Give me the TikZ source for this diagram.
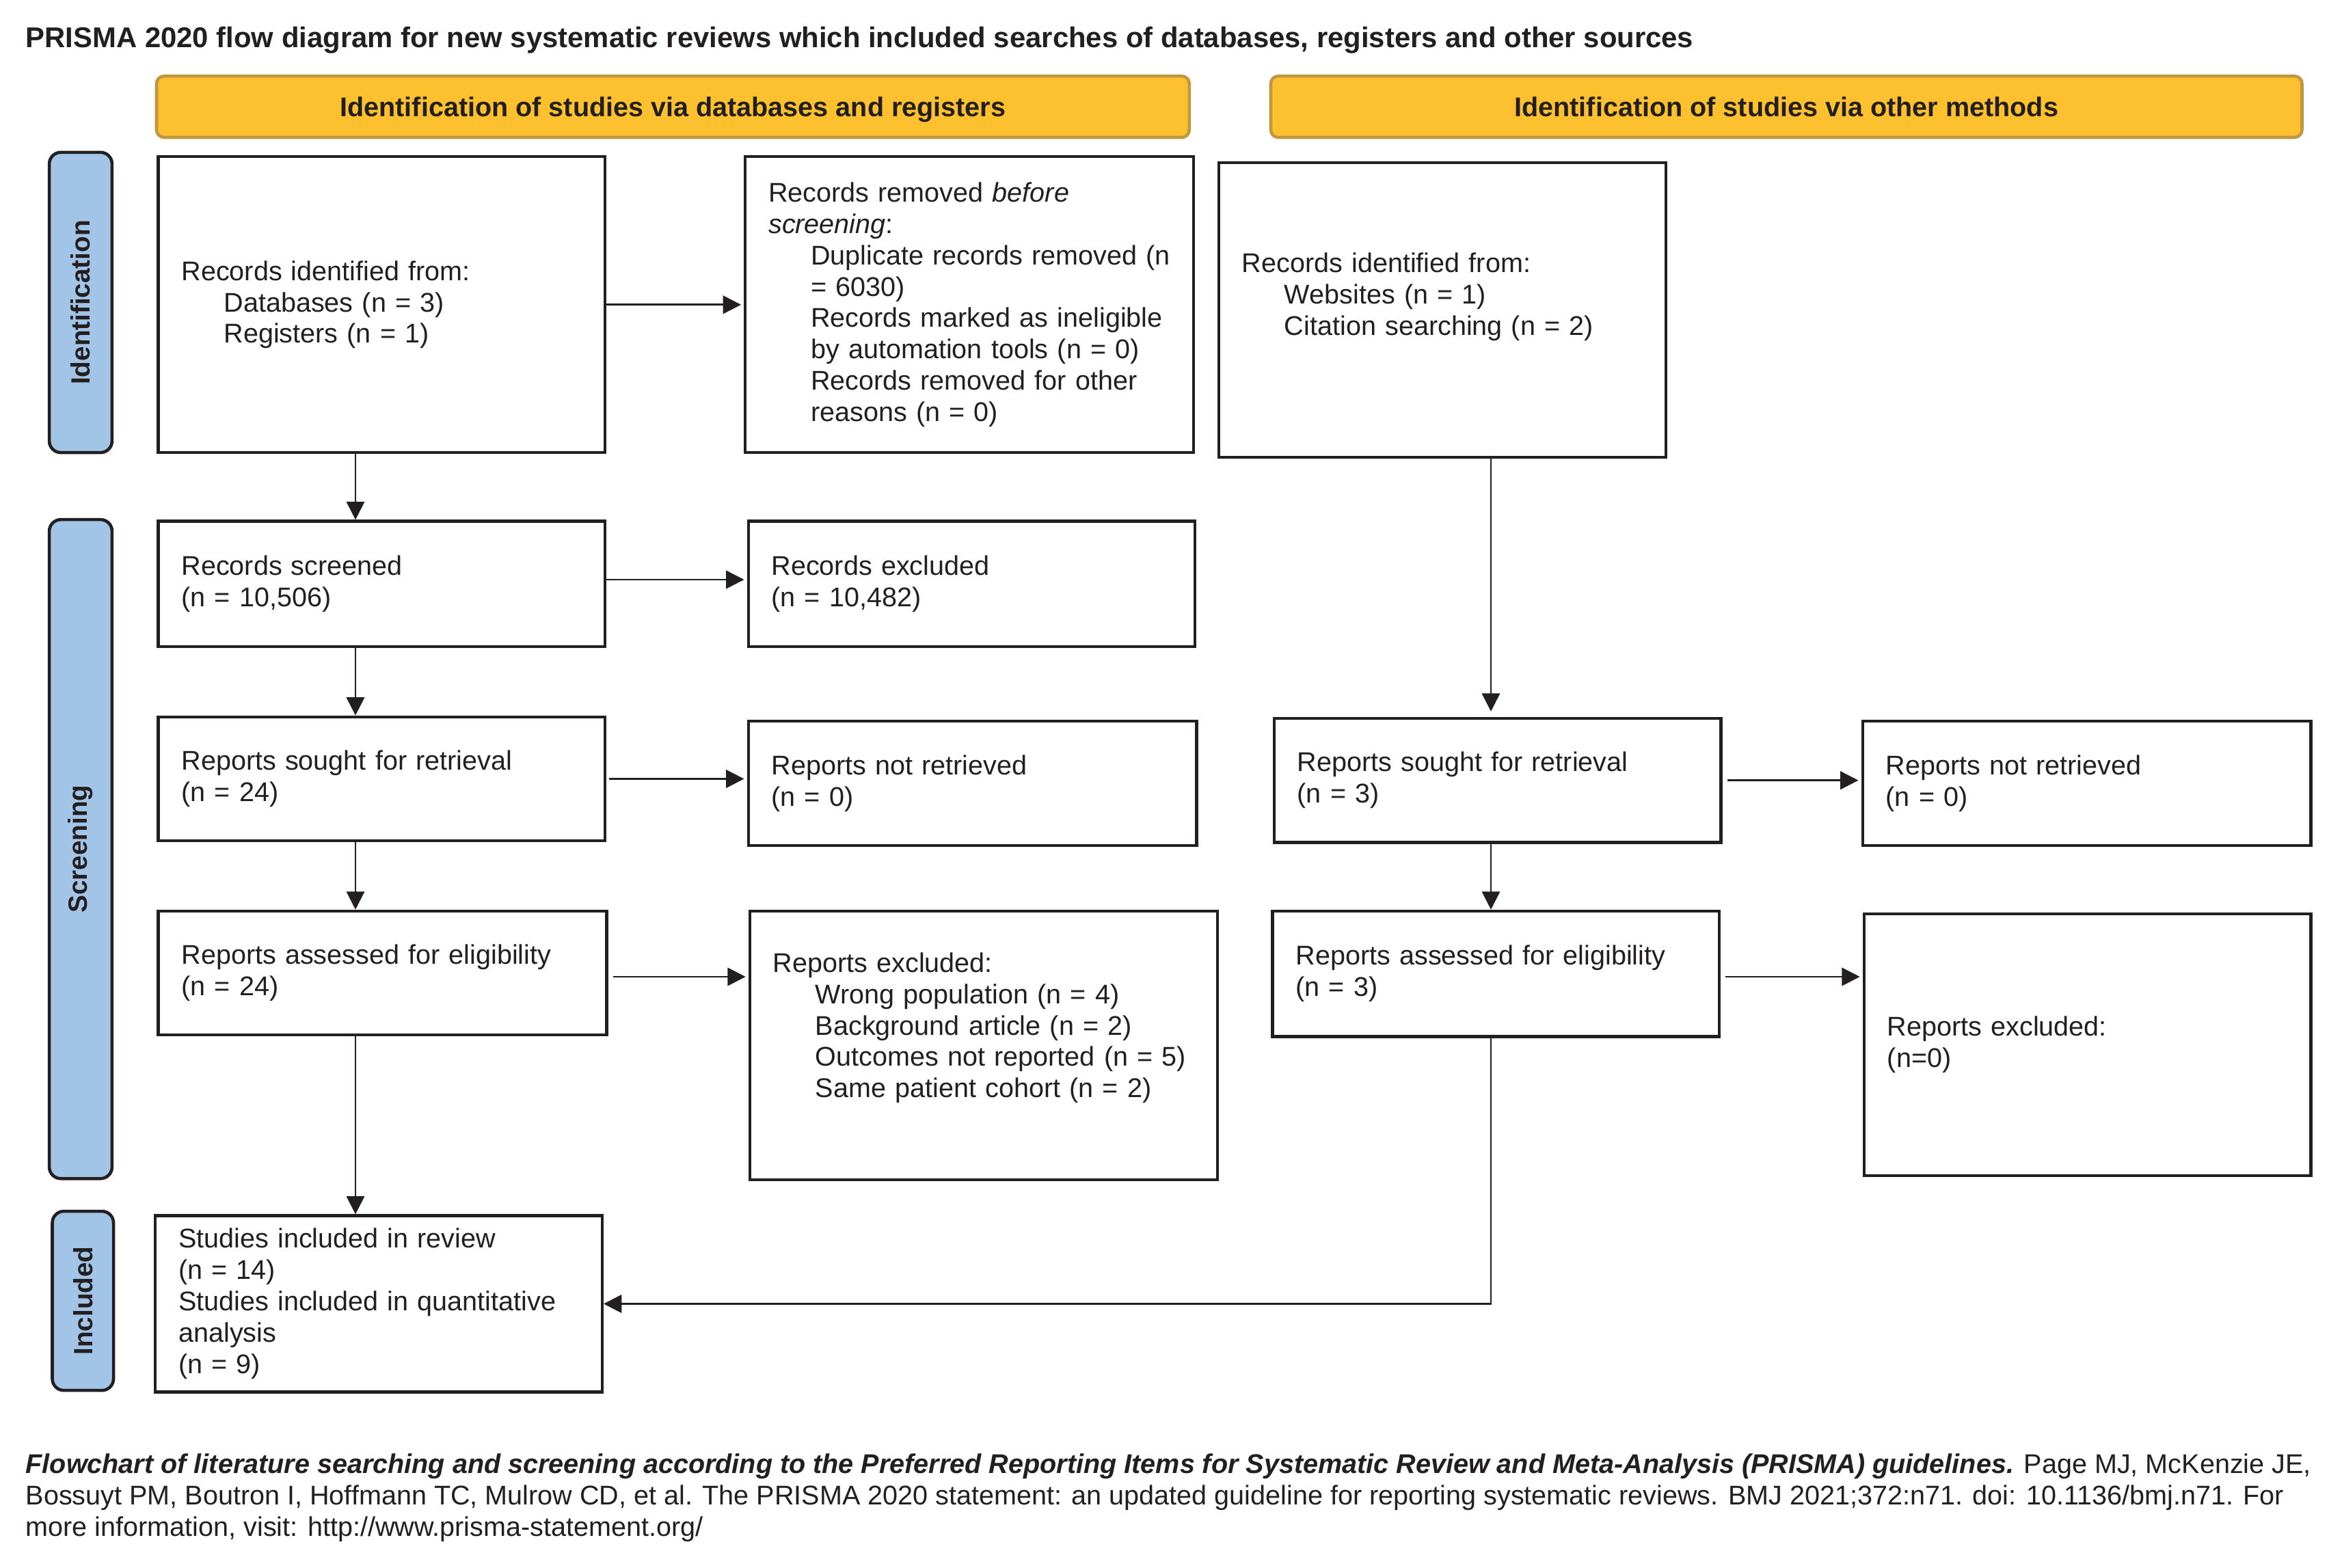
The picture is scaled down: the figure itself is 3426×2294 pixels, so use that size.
\documentclass[tikz,border=0pt]{standalone}
\usepackage{fontspec}
\setmainfont{Liberation Sans}
\usetikzlibrary{arrows.meta,calc}
\definecolor{ink}{HTML}{231F20}
\definecolor{hdrfill}{HTML}{FDC02F}
\definecolor{hdrline}{HTML}{C0963F}
\definecolor{sidefill}{HTML}{A1C4E7}
\newcommand\bodyfont{\fontsize{11.25}{13.06}\selectfont}
\newcommand\indl[1]{\mbox{\hspace*{0.62cm}#1}}
\begin{document}
\begin{tikzpicture}[x=0.01cm,y=-0.01cm,
 box/.style={draw=ink, line width=1.2pt, fill=white, text=ink, inner xsep=0.34cm, inner ysep=0pt, align=left, anchor=north west, font=\bodyfont},
 side/.style={draw=ink, line width=1.3pt, fill=sidefill, rounded corners=0.17cm, rotate=90, text=ink, font=\bfseries\fontsize{11}{13}\selectfont, inner sep=0pt},
 hdr/.style={draw=hdrline, line width=1.3pt, fill=hdrfill, rounded corners=0.11cm, text=ink, font=\bfseries\bodyfont, inner sep=0pt, text depth=0pt},
 arr/.style={draw=ink, line width=0.8pt, -{Triangle[length=7.5pt,width=7.5pt]}},
 varr/.style={arr, line width=0.65pt},
]
\fill[white] (0,0) rectangle (3426,2294);
\useasboundingbox (0,0) rectangle (3426,2294);

\node[anchor=west, inner sep=0pt, text=ink, font=\bfseries\fontsize{11.9}{14}\selectfont] (title) at (37,59) {PRISMA 2020 flow diagram for new systematic reviews which included searches of databases, registers and other sources};

\node[hdr, minimum width=15.099cm, minimum height=0.896cm] (hL) at (984.4,156.2) {Identification of studies via databases and registers};
\node[hdr, minimum width=15.076cm, minimum height=0.896cm] (hR) at (2613.2,156.2) {Identification of studies via other methods};

\node[side, minimum width=4.391cm, minimum height=0.918cm] (sId) at (118,442.5) {Identification};
\node[side, minimum width=9.636cm, minimum height=0.918cm] (sSc) at (118,1242.2) {Screening};
\node[side, minimum width=2.62cm, minimum height=0.895cm] (sIn) at (121.3,1903.1) {Included};

\node[box, minimum width=6.533cm, minimum height=4.327cm, text width=5.853cm] (id) at (229.4,227.2) {Records identified from:\\ \indl{Databases (n = 3)}\\ \indl{Registers (n = 1)}};
\node[box, minimum width=6.555cm, minimum height=4.327cm, text width=5.875cm] (rem) at (1088.1,227.2) {Records removed \textit{before}\\ \textit{screening}:\\ \indl{Duplicate records removed (n}\\ \indl{= 6030)}\\ \indl{Records marked as ineligible}\\ \indl{by automation tools (n = 0)}\\ \indl{Records removed for other}\\ \indl{reasons (n = 0)}};
\node[box, minimum width=6.533cm, minimum height=4.304cm, text width=5.853cm] (oid) at (1780.8,236) {Records identified from:\\ \indl{Websites (n = 1)}\\ \indl{Citation searching (n = 2)}\\ \mbox{}};

\node[box, minimum width=6.533cm, minimum height=1.835cm, text width=5.853cm] (scr) at (229.4,760.4) {Records screened\\ (n = 10,506)};
\node[box, minimum width=6.533cm, minimum height=1.835cm, text width=5.853cm] (exc) at (1092.5,760.4) {Records excluded\\ (n = 10,482)};

\node[box, minimum width=6.533cm, minimum height=1.814cm, text width=5.853cm] (rs) at (229.4,1046.6) {Reports sought for retrieval\\ (n = 24)};
\node[box, minimum width=6.555cm, minimum height=1.813cm, text width=5.875cm] (rnr) at (1092.5,1053.2) {Reports not retrieved\\ (n = 0)};

\node[box, minimum width=6.555cm, minimum height=1.813cm, text width=5.875cm] (ra) at (229.4,1330.7) {Reports assessed for eligibility\\ (n = 24)};
\node[box, minimum width=6.839cm, minimum height=3.933cm, text width=6.159cm] (rex) at (1094.7,1330.7) {Reports excluded:\\ \indl{Wrong population (n = 4)}\\ \indl{Background article (n = 2)}\\ \indl{Outcomes not reported (n = 5)}\\ \indl{Same patient cohort (n = 2)}\\ \strut};

\node[box, minimum width=6.533cm, minimum height=1.814cm, text width=5.853cm] (ors) at (1861.6,1048.8) {Reports sought for retrieval\\ (n = 3)};
\node[box, minimum width=6.555cm, minimum height=1.813cm, text width=5.875cm] (ornr) at (2722.5,1053.2) {Reports not retrieved\\ (n = 0)};

\node[box, minimum width=6.534cm, minimum height=1.835cm, text width=5.854cm] (ora) at (1859.4,1330.7) {Reports assessed for eligibility\\ (n = 3)};
\node[box, minimum width=6.533cm, minimum height=3.824cm, text width=5.853cm] (orex) at (2724.7,1335) {Reports excluded:\\ (n=0)};

\node[box, minimum width=6.533cm, minimum height=2.578cm, text width=5.853cm] (inc) at (225.1,1776.4) {Studies included in review\\ (n = 14)\\ Studies included in quantitative\\ analysis\\ (n = 9)};

\node[anchor=north west, inner sep=0pt, text=ink, align=left, font=\bodyfont] (foot) at (37,2126) {\textbf{\textit{Flowchart of literature searching and screening according to the Preferred Reporting Items for Systematic Review and Meta-Analysis (PRISMA) guidelines.}} Page MJ, McKenzie JE,\\ Bossuyt PM, Boutron I, Hoffmann TC, Mulrow CD, et al. The PRISMA 2020 statement: an updated guideline for reporting systematic reviews. BMJ 2021;372:n71. doi: 10.1136/bmj.n71. For\\ more information, visit: http://www.prisma-statement.org/};

\coordinate (cL) at (520,0);
\coordinate (cR) at (2181,0);
\coordinate (yA) at (0,848);
\coordinate (yB) at (0,1429);

\draw[arr, shorten >=0.04cm] (id.east) -- (rem.west);
\draw[varr] (id.south -| cL) -- (scr.north -| cL);
\draw[arr, shorten >=0.04cm] (scr.east |- yA) -- (exc.west |- yA);
\draw[varr] (scr.south -| cL) -- (rs.north -| cL);
\draw[arr, shorten <=0.04cm, shorten >=0.04cm] (rs.east) -- (rnr.west |- rs.east);
\draw[varr] (rs.south -| cL) -- (ra.north -| cL);
\draw[arr, shorten <=0.07cm, shorten >=0.04cm] (ra.east |- yB) -- (rex.west |- yB);
\draw[varr] (ra.south -| cL) -- (inc.north -| cL);

\draw[varr, shorten >=0.08cm] (oid.south -| cR) -- (ors.north -| cR);
\draw[arr, shorten <=0.07cm, shorten >=0.04cm] (ors.east) -- (ornr.west |- ors.east);
\draw[varr] (ors.south -| cR) -- (ora.north -| cR);
\draw[arr, shorten <=0.07cm, shorten >=0.04cm] (ora.east |- yB) -- (orex.west |- yB);
\draw[arr] (ora.south -| cR) |- (inc.east);
\end{tikzpicture}
\end{document}
